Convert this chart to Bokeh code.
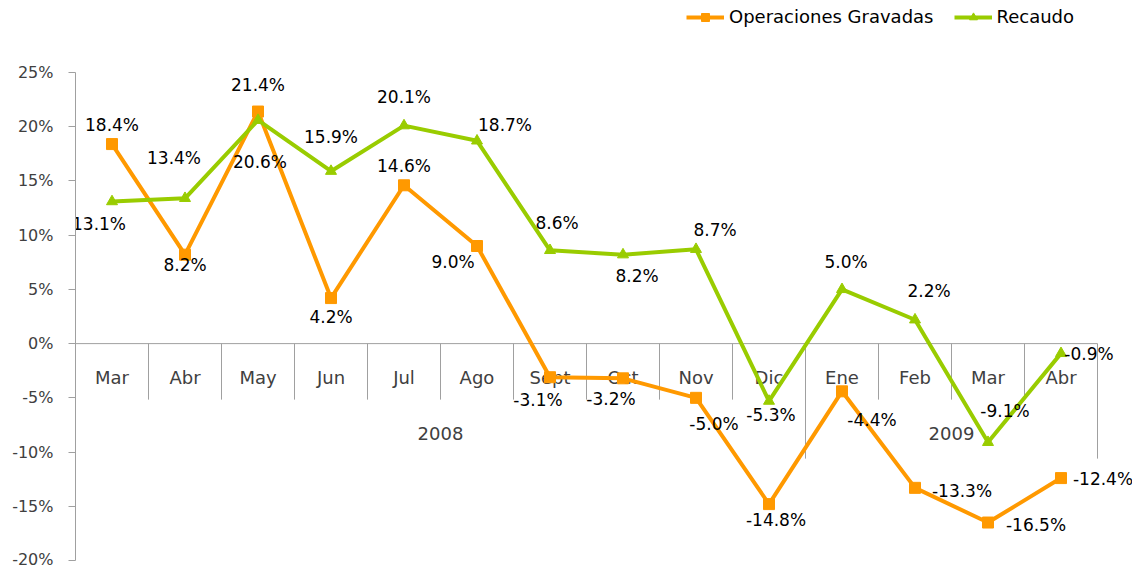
from bokeh.plotting import figure
from bokeh.models import ColumnDataSource, Range1d, PrintfTickFormatter, FixedTicker, Legend, LegendItem
from bokeh.core.properties import value
from bokeh.embed import file_html
from bokeh.resources import INLINE

# ---------------- data ----------------
months = ["Mar", "Abr", "May", "Jun", "Jul", "Ago", "Sept", "Oct", "Nov", "Dic", "Ene", "Feb", "Mar", "Abr"]
years = ["2008", "2008", "2008", "2008", "2008", "2008", "2008", "2008", "2008", "2008",
         "2009", "2009", "2009", "2009"]
operaciones = [18.4, 8.2, 21.4, 4.2, 14.6, 9.0, -3.1, -3.2, -5.0, -14.8, -4.4, -13.3, -16.5, -12.4]
recaudo = [13.1, 13.4, 20.6, 15.9, 20.1, 18.7, 8.6, 8.2, 8.7, -5.3, 5.0, 2.2, -9.1, -0.9]
y_ticks = [-20, -15, -10, -5, 0, 5, 10, 15, 20, 25]

# label offsets (screen px) relative to each point
op_dx = [0, 0, 0, 0, 0, -24, -12, -12, 18, 7, 30, 47, 48, 42]
op_dy = [-19, 10, -27, 19, -19, 16, 23, 21, 26, 16, 29, 3, 2, 1]
re_dx = [-13, -11, 2, 0, 0, 28, 7, 14, 19, 2, 4, 14, 17, 28]
re_dy = [22, -40, 42, -34, -29, -16, -27, 21, -19, 14, -27, -29, -31, 1]

ORANGE = "#FF9900"
GREEN = "#99CC00"
AXIS = "#A0A0A0"
FONT = "DejaVu Sans"

W, H = 1132, 568
LEFT, TOP_PAD, BOTTOM = 75, 72, 8
CAT_W = 73
n = len(months)
xs = [i + 0.5 for i in range(n)]
frame_w = W - LEFT
frame_h = H - BOTTOM
ymin, ymax = -20, 25
ppu = (frame_h - TOP_PAD) / (ymax - ymin)
y_top = ymax + TOP_PAD / ppu

p = figure(width=W, height=H, output_backend="svg", toolbar_location=None,
           x_range=Range1d(0, frame_w / CAT_W), y_range=Range1d(ymin, y_top), x_axis_type=None,
           min_border_left=LEFT, min_border_right=0, min_border_top=0, min_border_bottom=BOTTOM)
p.outline_line_color = None
p.xgrid.visible = False
p.ygrid.visible = False
p.background_fill_color = "white"

ya = p.yaxis[0]
ya.bounds = (ymin, ymax)
ya.ticker = FixedTicker(ticks=y_ticks)
ya.formatter = PrintfTickFormatter(format="%d%%")
ya.axis_line_color = AXIS
ya.major_tick_line_color = AXIS
ya.major_tick_out = 7
ya.major_tick_in = 0
ya.minor_tick_line_color = None
ya.major_label_text_font = FONT
ya.major_label_text_font_size = "16px"
ya.major_label_text_color = "#404040"
ya.major_label_standoff = 15

# category axis at y = 0
p.segment(x0=[0], y0=[0], x1=[n], y1=[0], line_color=AXIS, line_width=1)
bx, by0, by1 = [], [], []
for i in range(1, n + 1):
    long_div = (i == n) or (years[i] != years[i - 1])
    bx.append(i)
    by0.append(0)
    by1.append(-(115 if long_div else 56) / ppu)
p.segment(x0=bx, y0=by0, x1=bx, y1=by1, line_color=AXIS, line_width=1)

p.text(x=xs, y=[0] * n, text=months, text_font=value(FONT), text_font_size="18px",
       text_color="#404040", text_align="center", text_baseline="middle", y_offset=34)

groups = []
for i, yv in enumerate(years):
    if not groups or groups[-1][0] != yv:
        groups.append([yv, i, i])
    else:
        groups[-1][2] = i
gx = [(g[1] + g[2] + 1) / 2 for g in groups]
p.text(x=gx, y=[0] * len(groups), text=[g[0] for g in groups], text_font=value(FONT),
       text_font_size="18px", text_color="#404040", text_align="center",
       text_baseline="middle", y_offset=90)

# series
src_o = ColumnDataSource(dict(x=xs, y=operaciones, lab=["%.1f%%" % v for v in operaciones],
                              dx=op_dx, dy=op_dy))
src_r = ColumnDataSource(dict(x=xs, y=recaudo, lab=["%.1f%%" % v for v in recaudo],
                              dx=re_dx, dy=re_dy))

lo = p.line("x", "y", source=src_o, line_color=ORANGE, line_width=4)
mo = p.scatter("x", "y", source=src_o, marker="square", size=11, fill_color=ORANGE, line_color=ORANGE)
lr = p.line("x", "y", source=src_r, line_color=GREEN, line_width=4)
mr = p.scatter("x", "y", source=src_r, marker="triangle", size=11, fill_color=GREEN, line_color=GREEN)

for src in (src_o, src_r):
    p.text(x="x", y="y", text="lab", source=src, x_offset="dx", y_offset="dy",
           text_font=value(FONT), text_font_size="17px", text_color="black",
           text_align="center", text_baseline="middle")

legend = Legend(items=[LegendItem(label="Operaciones Gravadas", renderers=[lo, mo]),
                       LegendItem(label="Recaudo", renderers=[lr, mr])],
                orientation="horizontal", location=(686 - LEFT, frame_h - 27),
                label_text_font=FONT, label_text_font_size="18px", label_text_color="black",
                glyph_width=38, glyph_height=20, label_standoff=5, spacing=20,
                padding=0, margin=0, border_line_color=None, background_fill_alpha=0)
p.add_layout(legend)

open("out.html", "w").write(file_html(p, INLINE))
